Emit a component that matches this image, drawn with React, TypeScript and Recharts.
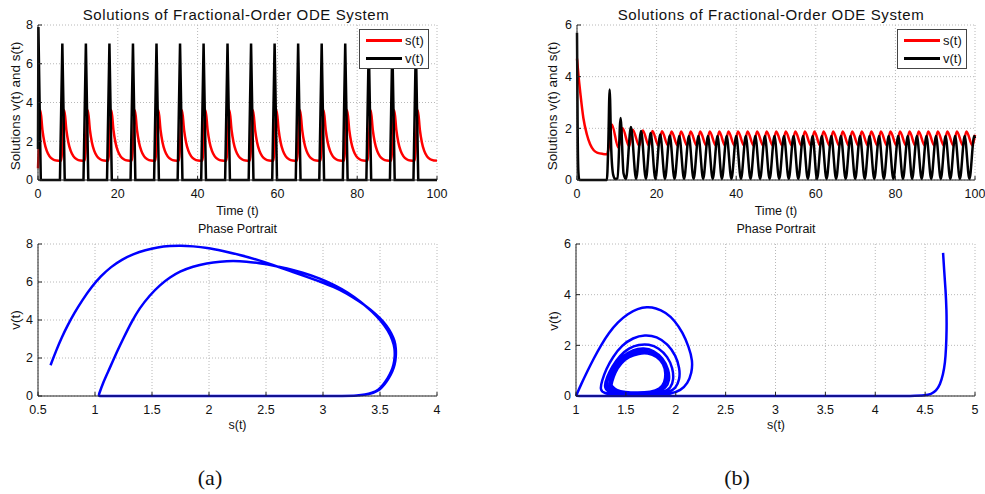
import { LineChart, Line, XAxis, YAxis, CartesianGrid } from "recharts"

type Pair = [number, number]

// ---- axes ----
const timeTicks = [0, 20, 40, 60, 80, 100]
const yTicksA = [0, 2, 4, 6, 8]
const yTicksB = [0, 2, 4, 6]
const sTicksA = [0.5, 1, 1.5, 2, 2.5, 3, 3.5, 4]
const sTicksB = [1, 1.5, 2, 2.5, 3, 3.5, 4, 4.5, 5]

const legendItems = [
  { name: "s(t)", color: "#ff0000" },
  { name: "v(t)", color: "#000000" },
]

// ---- panel (a): time series, [t, value] ----
const sSeriesA: Pair[] = [
  [0, 0.6], [0.25, 2.0], [0.6, 3.6], [1.1, 2.6], [1.6, 1.95], [2.2, 1.5], [2.9, 1.22], [3.7, 1.07], [4.6, 1.01],
  [5.8, 1.0], [6.6, 3.6], [7.1, 2.6], [7.6, 1.95], [8.2, 1.5], [8.9, 1.22], [9.7, 1.07], [10.6, 1.01],
  [11.7, 1.0], [12.5, 3.6], [13.0, 2.6], [13.5, 1.95], [14.1, 1.5], [14.8, 1.22], [15.6, 1.07], [16.5, 1.01],
  [17.6, 1.0], [18.4, 3.6], [18.9, 2.6], [19.4, 1.95], [20.0, 1.5], [20.7, 1.22], [21.5, 1.07], [22.4, 1.01],
  [23.5, 1.0], [24.3, 3.6], [24.8, 2.6], [25.3, 1.95], [25.9, 1.5], [26.6, 1.22], [27.4, 1.07], [28.3, 1.01],
  [29.4, 1.0], [30.2, 3.6], [30.7, 2.6], [31.2, 1.95], [31.8, 1.5], [32.5, 1.22], [33.3, 1.07], [34.2, 1.01],
  [35.3, 1.0], [36.1, 3.6], [36.6, 2.6], [37.1, 1.95], [37.7, 1.5], [38.4, 1.22], [39.2, 1.07], [40.1, 1.01],
  [41.2, 1.0], [42.0, 3.6], [42.5, 2.6], [43.0, 1.95], [43.6, 1.5], [44.3, 1.22], [45.1, 1.07], [46.0, 1.01],
  [47.2, 1.0], [48.0, 3.6], [48.5, 2.6], [49.0, 1.95], [49.6, 1.5], [50.3, 1.22], [51.1, 1.07], [52.0, 1.01],
  [53.1, 1.0], [53.9, 3.6], [54.4, 2.6], [54.9, 1.95], [55.5, 1.5], [56.2, 1.22], [57.0, 1.07], [57.9, 1.01],
  [59.0, 1.0], [59.8, 3.6], [60.3, 2.6], [60.8, 1.95], [61.4, 1.5], [62.1, 1.22], [62.9, 1.07], [63.8, 1.01],
  [64.9, 1.0], [65.7, 3.6], [66.2, 2.6], [66.7, 1.95], [67.3, 1.5], [68.0, 1.22], [68.8, 1.07], [69.7, 1.01],
  [70.8, 1.0], [71.6, 3.6], [72.1, 2.6], [72.6, 1.95], [73.2, 1.5], [73.9, 1.22], [74.7, 1.07], [75.6, 1.01],
  [76.7, 1.0], [77.5, 3.6], [78.0, 2.6], [78.5, 1.95], [79.1, 1.5], [79.8, 1.22], [80.6, 1.07], [81.5, 1.01],
  [82.6, 1.0], [83.4, 3.6], [83.9, 2.6], [84.4, 1.95], [85.0, 1.5], [85.7, 1.22], [86.5, 1.07], [87.4, 1.01],
  [88.5, 1.0], [89.3, 3.6], [89.8, 2.6], [90.3, 1.95], [90.9, 1.5], [91.6, 1.22], [92.4, 1.07], [93.3, 1.01],
  [94.4, 1.0], [95.2, 3.6], [95.7, 2.6], [96.2, 1.95], [96.8, 1.5], [97.5, 1.22], [98.3, 1.07], [99.2, 1.01],
  [100, 1.0],
]

const vSeriesA: Pair[] = [
  [0, 1.6], [0.1, 7.9], [0.7, 0],
  [5.5, 0], [6.1, 7.05], [6.7, 0],
  [11.4, 0], [12.0, 7.05], [12.6, 0],
  [17.3, 0], [17.9, 7.05], [18.5, 0],
  [23.2, 0], [23.8, 7.05], [24.4, 0],
  [29.1, 0], [29.7, 7.05], [30.3, 0],
  [35.0, 0], [35.6, 7.05], [36.2, 0],
  [40.9, 0], [41.5, 7.05], [42.1, 0],
  [46.9, 0], [47.5, 7.05], [48.1, 0],
  [52.8, 0], [53.4, 7.05], [54.0, 0],
  [58.7, 0], [59.3, 7.05], [59.9, 0],
  [64.6, 0], [65.2, 7.05], [65.8, 0],
  [70.5, 0], [71.1, 7.05], [71.7, 0],
  [76.4, 0], [77.0, 7.05], [77.6, 0],
  [82.3, 0], [82.9, 7.05], [83.5, 0],
  [88.2, 0], [88.8, 7.05], [89.4, 0],
  [94.1, 0], [94.7, 7.05], [95.3, 0],
  [100, 0],
]

// ---- panel (b): time series ----
const sSeriesB: Pair[] = [
  [0, 4.7], [0.4, 4.0], [0.85, 3.35], [1.6, 2.4], [2.5, 1.75], [3.3, 1.38], [4.2, 1.15], [5.2, 1.05], [6.5, 1.01], [7.6, 1.0],
  [8.0, 1.3], [8.75, 2.15], [10.4, 1.25], [11.45, 2.0], [13.1, 1.3], [14.0, 1.95], [15.65, 1.32], [16.55, 1.92],
  [18.05, 1.33], [18.95, 1.9], [20.45, 1.34], [21.35, 1.89],
  [22.85, 1.34], [23.75, 1.88], [25.25, 1.34], [26.15, 1.88], [27.65, 1.34], [28.55, 1.88], [30.05, 1.34], [30.95, 1.88],
  [32.45, 1.34], [33.35, 1.88], [34.85, 1.34], [35.75, 1.88], [37.15, 1.34], [38.05, 1.88], [39.55, 1.34], [40.45, 1.88],
  [41.95, 1.34], [42.85, 1.88], [44.35, 1.34], [45.25, 1.88], [46.75, 1.34], [47.65, 1.88], [49.15, 1.34], [50.05, 1.88],
  [51.55, 1.34], [52.45, 1.88], [53.95, 1.34], [54.85, 1.88], [56.35, 1.34], [57.25, 1.88], [58.75, 1.34], [59.65, 1.88],
  [61.05, 1.34], [61.95, 1.88], [63.45, 1.34], [64.35, 1.88], [65.85, 1.34], [66.75, 1.88], [68.25, 1.34], [69.15, 1.88],
  [70.65, 1.34], [71.55, 1.88], [73.05, 1.34], [73.95, 1.88], [75.45, 1.34], [76.35, 1.88], [77.85, 1.34], [78.75, 1.88],
  [80.25, 1.34], [81.15, 1.88], [82.65, 1.34], [83.55, 1.88], [84.95, 1.34], [85.85, 1.88], [87.35, 1.34], [88.25, 1.88],
  [89.75, 1.34], [90.65, 1.88], [92.15, 1.34], [93.05, 1.88], [94.55, 1.34], [95.45, 1.88], [96.95, 1.34], [97.85, 1.88],
  [99.35, 1.34], [100, 1.75],
]

const vSeriesB: Pair[] = [
  [0, 5.7], [0.15, 2.2], [0.35, 0.3], [0.6, 0], [7.5, 0], [7.85, 1.3], [8.2, 3.5], [8.6, 1.2], [9.1, 0.2], [9.6, 0.04],
  [10.2, 0.06], [10.95, 2.4], [11.7, 0.25], [12.3, 0.04], [13.55, 2.05], [14.85, 0.04], [16.1, 1.9], [17.3, 0.04],
  [18.5, 1.82], [19.7, 0.04], [20.9, 1.76], [22.1, 0.04], [23.3, 1.72], [24.5, 0.04],
  [25.7, 1.7], [26.9, 0.04], [28.1, 1.7], [29.3, 0.04], [30.5, 1.7], [31.7, 0.04], [32.9, 1.7], [34.1, 0.04],
  [35.3, 1.7], [36.4, 0.04], [37.6, 1.7], [38.8, 0.04], [40.0, 1.7], [41.2, 0.04], [42.4, 1.7], [43.6, 0.04],
  [44.8, 1.7], [46.0, 0.04], [47.2, 1.7], [48.4, 0.04], [49.6, 1.7], [50.8, 0.04], [52.0, 1.7], [53.2, 0.04],
  [54.4, 1.7], [55.6, 0.04], [56.8, 1.7], [58.0, 0.04], [59.2, 1.7], [60.3, 0.04], [61.5, 1.7], [62.7, 0.04],
  [63.9, 1.7], [65.1, 0.04], [66.3, 1.7], [67.5, 0.04], [68.7, 1.7], [69.9, 0.04], [71.1, 1.7], [72.3, 0.04],
  [73.5, 1.7], [74.7, 0.04], [75.9, 1.7], [77.1, 0.04], [78.3, 1.7], [79.5, 0.04], [80.7, 1.7], [81.9, 0.04],
  [83.1, 1.7], [84.2, 0.04], [85.4, 1.7], [86.6, 0.04], [87.8, 1.7], [89.0, 0.04], [90.2, 1.7], [91.4, 0.04],
  [92.6, 1.7], [93.8, 0.04], [95.0, 1.7], [96.2, 0.04], [97.4, 1.7], [98.6, 0.04], [99.8, 1.7], [100, 1.62],
]

// ---- phase portraits, [s, v] ----
const phaseA: Pair[] = [
  [0.61, 1.62], [0.66, 2.4], [0.71, 3.1], [0.76, 3.72], [0.82, 4.38], [0.89, 5.06], [0.97, 5.74], [1.05, 6.3],
  [1.14, 6.8], [1.24, 7.2], [1.34, 7.48], [1.44, 7.68], [1.55, 7.83], [1.66, 7.9], [1.75, 7.92],
  [1.86, 7.88], [1.98, 7.81], [2.12, 7.64], [2.27, 7.43],
  [2.42, 7.18], [2.56, 6.9], [2.7, 6.6], [2.85, 6.29], [2.97, 6.03], [3.09, 5.76], [3.21, 5.4], [3.32, 4.97], [3.42, 4.55],
  [3.5, 4.1], [3.56, 3.7], [3.6, 3.3], [3.63, 2.9], [3.64, 2.5], [3.64, 2.05], [3.63, 1.65], [3.61, 1.3], [3.58, 0.95],
  [3.54, 0.6], [3.5, 0.33], [3.44, 0.16], [3.38, 0.07], [3.3, 0.02], [3.2, 0], [2.9, 0], [2.6, 0], [2.3, 0], [2.0, 0],
  [1.7, 0], [1.4, 0], [1.03, 0], [1.03, 0],
  [1.07, 0.7], [1.13, 1.47], [1.19, 2.3], [1.25, 3.05], [1.32, 3.9], [1.39, 4.62], [1.48, 5.3], [1.57, 5.85],
  [1.66, 6.25], [1.74, 6.55], [1.86, 6.82], [1.98, 6.99], [2.1, 7.08], [2.21, 7.11], [2.33, 7.08], [2.44, 6.99], [2.56, 6.88],
  [2.68, 6.73], [2.82, 6.5], [2.97, 6.2], [3.1, 5.85], [3.22, 5.45], [3.33, 4.97], [3.43, 4.45], [3.51, 3.95], [3.57, 3.45],
  [3.61, 2.95], [3.63, 2.5], [3.63, 2.05], [3.62, 1.65], [3.6, 1.3], [3.57, 0.95], [3.53, 0.6], [3.49, 0.33], [3.43, 0.16],
  [3.37, 0.07], [3.3, 0.02], [3.2, 0], [2.9, 0], [2.6, 0], [2.3, 0], [2.0, 0], [1.7, 0], [1.4, 0], [1.1, 0],
]

const phaseB: Pair[] = [
  [4.68, 5.65], [4.69, 5.0], [4.705, 4.2], [4.715, 3.4], [4.716, 2.6], [4.71, 1.9], [4.7, 1.3], [4.68, 0.85], [4.65, 0.45],
  [4.61, 0.2], [4.56, 0.07], [4.5, 0.02], [4.4, 0], [4.0, 0], [3.5, 0], [3.0, 0], [2.5, 0], [2.0, 0], [1.5, 0], [1.0, 0], [1.0, 0],
  [1.05, 0.45], [1.11, 0.95], [1.18, 1.5], [1.25, 2.0], [1.33, 2.5], [1.42, 2.92], [1.52, 3.25], [1.62, 3.45], [1.71, 3.52],
  [1.8, 3.48], [1.9, 3.3], [1.99, 2.98], [2.07, 2.5], [2.13, 1.95], [2.17, 1.4], [2.16, 0.9], [2.12, 0.5], [2.05, 0.22],
  [1.95, 0.08], [1.8, 0.04], [1.6, 0.03], [1.4, 0.05], [1.28, 0.1],
  [1.24, 0.25], [1.26, 0.6], [1.3, 1.05], [1.37, 1.55], [1.46, 2.0], [1.57, 2.3], [1.69, 2.42], [1.81, 2.35], [1.92, 2.05],
  [2.0, 1.6], [2.04, 1.1], [2.04, 0.65], [2.0, 0.3], [1.93, 0.14], [1.8, 0.08], [1.6, 0.07], [1.42, 0.09], [1.32, 0.15],
  [1.28, 0.35], [1.31, 0.75], [1.36, 1.15], [1.44, 1.6], [1.53, 1.9], [1.63, 2.03], [1.73, 2.05], [1.83, 1.9], [1.92, 1.55],
  [1.97, 1.1], [1.98, 0.65], [1.95, 0.3], [1.88, 0.15], [1.75, 0.1], [1.57, 0.1], [1.42, 0.13], [1.33, 0.22],
  [1.3, 0.4], [1.33, 0.8], [1.38, 1.2], [1.47, 1.58], [1.57, 1.83], [1.68, 1.9], [1.78, 1.8], [1.87, 1.5], [1.93, 1.05],
  [1.94, 0.62], [1.9, 0.3], [1.82, 0.16], [1.68, 0.11], [1.52, 0.12], [1.4, 0.17], [1.34, 0.28],
  [1.33, 0.45], [1.36, 0.85], [1.42, 1.25], [1.5, 1.58], [1.6, 1.76], [1.7, 1.8], [1.8, 1.66], [1.88, 1.35], [1.92, 0.95],
  [1.91, 0.55], [1.86, 0.27], [1.77, 0.15], [1.63, 0.12], [1.48, 0.14], [1.38, 0.21], [1.34, 0.35],
  [1.35, 0.5], [1.38, 0.9], [1.44, 1.28], [1.52, 1.56], [1.62, 1.7], [1.72, 1.72], [1.81, 1.58], [1.88, 1.28], [1.91, 0.9],
  [1.9, 0.52], [1.85, 0.26], [1.76, 0.15], [1.62, 0.12], [1.48, 0.14], [1.39, 0.22], [1.35, 0.36],
  [1.36, 0.55], [1.39, 0.92], [1.45, 1.3], [1.53, 1.55], [1.63, 1.68], [1.72, 1.7], [1.81, 1.57], [1.88, 1.27], [1.9, 0.9],
  [1.89, 0.52], [1.84, 0.27], [1.75, 0.16], [1.62, 0.13], [1.49, 0.15], [1.4, 0.23], [1.36, 0.4],
]

const rows = (pairs: Pair[], xKey: string, yKey: string) =>
  pairs.map(([a, b]) => ({ [xKey]: a, [yKey]: b }))

const font = "'Liberation Sans', Arial, Helvetica, sans-serif"
const frame = { stroke: "#222", strokeWidth: 1 }
const tickText = { fill: "#111", fontSize: 12.5, fontFamily: font }

type Margin = { top: number; right: number; bottom: number; left: number }

function Panel(props: {
  left: number
  top: number
  width: number
  height: number
  margin: Margin
  xKey: string
  xTicks: number[]
  yTicks: number[]
  children: any
}) {
  const { left, top, width, height, margin, xKey, xTicks, yTicks, children } = props
  const xDomain = [xTicks[0], xTicks[xTicks.length - 1]]
  const yDomain = [yTicks[0], yTicks[yTicks.length - 1]]
  return (
    <div style={{ position: "absolute", left, top }}>
      <LineChart width={width} height={height} margin={margin}>
        <CartesianGrid stroke="#b8b8b8" strokeDasharray="1 2" />
        <XAxis dataKey={xKey} type="number" domain={xDomain} ticks={xTicks} interval={0} height={20}
          tickSize={-4} tickMargin={13} axisLine={frame} tickLine={frame} tick={tickText} />
        <XAxis xAxisId="top" orientation="top" type="number" domain={xDomain} ticks={xTicks} interval={0}
          height={0} tickSize={-4} axisLine={frame} tickLine={frame} tick={false} />
        <YAxis type="number" domain={yDomain} ticks={yTicks} interval={0} width={30}
          tickSize={-4} tickMargin={9} axisLine={frame} tickLine={frame} tick={tickText} />
        <YAxis yAxisId="right" orientation="right" type="number" domain={yDomain} ticks={yTicks} interval={0}
          width={0} tickSize={-4} axisLine={frame} tickLine={frame} tick={false} />
        {children}
      </LineChart>
    </div>
  )
}

function Txt(props: { x: number; y: number; size?: number; rotate?: boolean; family?: string; spacing?: number; children: any }) {
  const { x, y, size = 13, rotate = false, family = font, spacing = 0, children } = props
  return (
    <div
      style={{
        position: "absolute", left: x, top: y, whiteSpace: "nowrap", lineHeight: 1,
        transform: `translate(-50%, -50%)${rotate ? " rotate(-90deg)" : ""}`,
        fontSize: size, fontFamily: family, letterSpacing: spacing, color: "#111",
      }}
    >
      {children}
    </div>
  )
}

function LegendBox({ x, y }: { x: number; y: number }) {
  return (
    <div style={{ position: "absolute", left: x, top: y, width: 70, height: 40, boxSizing: "border-box", border: "1px solid #444", background: "#fff" }}>
      {legendItems.map((item, i) => (
        <div key={item.name} style={{ position: "absolute", left: 6, top: 3 + i * 18.6, height: 14, display: "flex", alignItems: "center" }}>
          <span style={{ display: "inline-block", width: 36, height: 3, background: item.color }} />
          <span style={{ marginLeft: 3, fontSize: 13, fontFamily: font, color: "#111" }}>{item.name}</span>
        </div>
      ))}
    </div>
  )
}

export default function App() {
  const title = "Solutions of Fractional-Order ODE System"
  const ylab = "Solutions v(t) and s(t)"
  return (
    <div style={{ position: "absolute", left: 0, top: 0, width: 985, height: 494, background: "#fff", overflow: "hidden" }}>
      <Panel left={0} top={0} width={450} height={230} margin={{ top: 25, right: 13, bottom: 30, left: 8 }}
        xKey="t" xTicks={timeTicks} yTicks={yTicksA}>
        <Line data={rows(sSeriesA, "t", "y")} dataKey="y" type="monotone" stroke="#ff0000" strokeWidth={2.5} dot={false} isAnimationActive={false} />
        <Line data={rows(vSeriesA, "t", "y")} dataKey="y" type="linear" stroke="#000" strokeWidth={2.5} dot={false} isAnimationActive={false} />
      </Panel>
      <Panel left={540} top={0} width={445} height={230} margin={{ top: 25, right: 10, bottom: 30, left: 7 }}
        xKey="t" xTicks={timeTicks} yTicks={yTicksB}>
        <Line data={rows(sSeriesB, "t", "y")} dataKey="y" type="monotone" stroke="#ff0000" strokeWidth={2.5} dot={false} isAnimationActive={false} />
        <Line data={rows(vSeriesB, "t", "y")} dataKey="y" type="monotone" stroke="#000" strokeWidth={2.5} dot={false} isAnimationActive={false} />
      </Panel>
      <Panel left={0} top={230} width={450} height={190} margin={{ top: 14, right: 13, bottom: 4, left: 8 }}
        xKey="s" xTicks={sTicksA} yTicks={yTicksA}>
        <Line data={rows(phaseA, "s", "v")} dataKey="v" type="basis" stroke="#0000ff" strokeWidth={2.5} dot={false} isAnimationActive={false} />
      </Panel>
      <Panel left={540} top={230} width={445} height={190} margin={{ top: 14, right: 10, bottom: 4, left: 6 }}
        xKey="s" xTicks={sTicksB} yTicks={yTicksB}>
        <Line data={rows(phaseB, "s", "v")} dataKey="v" type="basis" stroke="#0000ff" strokeWidth={2.5} dot={false} isAnimationActive={false} />
      </Panel>

      <LegendBox x={359} y={29} />
      <LegendBox x={897} y={29} />

      <Txt x={236} y={14} size={15} spacing={0.6}>{title}</Txt>
      <Txt x={771} y={14} size={15} spacing={0.6}>{title}</Txt>
      <Txt x={16} y={106} size={13.5} rotate>{ylab}</Txt>
      <Txt x={553} y={106} size={13.5} rotate>{ylab}</Txt>
      <Txt x={237.5} y={211} size={12.5}>Time (t)</Txt>
      <Txt x={776} y={211} size={12.5}>Time (t)</Txt>
      <Txt x={237.5} y={229} size={12.5}>Phase Portrait</Txt>
      <Txt x={776} y={229} size={12.5}>Phase Portrait</Txt>
      <Txt x={16} y={320} size={13.5} rotate>v(t)</Txt>
      <Txt x={554} y={321} size={13.5} rotate>v(t)</Txt>
      <Txt x={237.5} y={425} size={12.5}>s(t)</Txt>
      <Txt x={776} y={425} size={12.5}>s(t)</Txt>
      <Txt x={210} y={478} size={22} family="'Liberation Serif', 'Times New Roman', serif">(a)</Txt>
      <Txt x={737} y={478} size={22} family="'Liberation Serif', 'Times New Roman', serif">(b)</Txt>
    </div>
  )
}
